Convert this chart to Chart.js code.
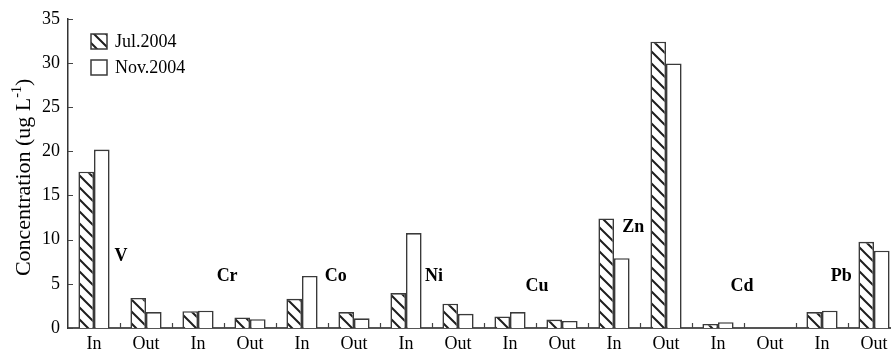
<!DOCTYPE html>
<html>
<head>
<meta charset="utf-8">
<script src="https://cdn.jsdelivr.net/npm/chart.js@4/dist/chart.umd.min.js"></script>
<style>
html,body{margin:0;padding:0;background:#fff;overflow:hidden;}
#wrap{position:relative;width:900px;height:352px;}
</style>
</head>
<body>
<div id="wrap"><canvas id="c"></canvas></div>
<script>
// ---- data ----
const categories = ['In','Out','In','Out','In','Out','In','Out','In','Out','In','Out','In','Out','In','Out'];
const jul2004 = [17.7, 3.4, 1.9, 1.2, 3.3, 1.8, 3.95, 2.75, 1.3, 0.95, 12.4, 32.4, 0.45, 0, 1.8, 9.75];
const nov2004 = [20.2, 1.8, 1.95, 1.0, 5.9, 1.1, 10.75, 1.6, 1.8, 0.8, 7.9, 29.95, 0.65, 0, 1.95, 8.75];
const seriesNames = ['Jul.2004', 'Nov.2004'];
const elements = ['V','Cr','Co','Ni','Cu','Zn','Cd','Pb'];
const elementLabelX = [0.52, 2.56, 4.65, 6.54, 8.52, 10.37, 12.46, 14.37]; // category-index anchor
const elementLabelY = [8.1, 5.8, 5.9, 5.9, 4.7, 11.4, 4.7, 5.8];          // value anchor
const yTicks = [0,5,10,15,20,25,30,35];

const SERIF = "'Liberation Serif','Times New Roman',serif";
const EDGE = '#3a3a3a';

function makeHatch(){
  const t = document.createElement('canvas');
  t.width = 12; t.height = 12;
  const g = t.getContext('2d');
  g.fillStyle = '#fff'; g.fillRect(0,0,12,12);
  g.strokeStyle = '#1e1e1e'; g.lineWidth = 2;
  g.beginPath();
  g.moveTo(-2,-2); g.lineTo(14,14);
  g.moveTo(10,-2); g.lineTo(14,2);
  g.moveTo(-2,10); g.lineTo(2,14);
  g.stroke();
  return document.getElementById('c').getContext('2d').createPattern(t,'repeat');
}
const hatch = makeHatch();

const decor = {
  id:'decor',
  afterDraw(chart){
    const ctx = chart.ctx, a = chart.chartArea;
    const x = chart.scales.x, y = chart.scales.y;
    ctx.save();
    // inward ticks
    ctx.strokeStyle = '#444'; ctx.lineWidth = 1.2;
    ctx.beginPath();
    for(let i=1;i<categories.length;i++){
      const px = Math.round(x.getPixelForValue(i-0.5))+0.5;
      ctx.moveTo(px,a.bottom); ctx.lineTo(px,a.bottom-5);
    }
    yTicks.forEach(v=>{
      const py = Math.round(y.getPixelForValue(v))+0.5;
      ctx.moveTo(a.left,py); ctx.lineTo(a.left+5,py);
    });
    ctx.stroke();
    // element labels
    ctx.fillStyle = '#000';
    ctx.font = "bold 18px " + SERIF;
    ctx.textAlign = 'center'; ctx.textBaseline = 'middle';
    elements.forEach((e,i)=>{
      ctx.fillText(e, x.getPixelForValue(elementLabelX[i]), y.getPixelForValue(elementLabelY[i]));
    });
    // legend
    const fills = [hatch,'#fff'];
    ctx.font = "18px " + SERIF; ctx.textAlign='left';
    fills.forEach((f,i)=>{
      const bx = 91, by = 34 + i*26;
      ctx.fillStyle = f; ctx.fillRect(bx,by,16,15);
      ctx.strokeStyle = EDGE; ctx.lineWidth = 1.5; ctx.strokeRect(bx,by,16,15);
      ctx.fillStyle = '#000'; ctx.fillText(seriesNames[i], bx+24, by+8);
    });
    // y title with superscript
    ctx.translate(22, (a.top+a.bottom)/2 + 4);
    ctx.rotate(-Math.PI/2);
    const main = 'Concentration (ug L', sup = '-1', tail = ')';
    ctx.font = "22px " + SERIF;
    const w1 = ctx.measureText(main).width, w3 = ctx.measureText(tail).width;
    ctx.font = "14px " + SERIF;
    const w2 = ctx.measureText(sup).width;
    let sx = -(w1+w2+w3)/2;
    ctx.textBaseline = 'alphabetic';
    ctx.font = "22px " + SERIF; ctx.fillText(main, sx, 8);
    ctx.font = "14px " + SERIF; ctx.fillText(sup, sx+w1, -1);
    ctx.font = "22px " + SERIF; ctx.fillText(tail, sx+w1+w2, 8);
    ctx.restore();
  }
};

new Chart(document.getElementById('c'), {
  type:'bar',
  data:{
    labels: categories,
    datasets:[
      {label:seriesNames[0], data:jul2004, backgroundColor:hatch, borderColor:EDGE, borderWidth:1.6, borderSkipped:'bottom'},
      {label:seriesNames[1], data:nov2004, backgroundColor:'#fff', borderColor:EDGE, borderWidth:1.6, borderSkipped:'bottom'}
    ]
  },
  options:{
    responsive:true, maintainAspectRatio:false, animation:false,
    layout:{padding:{top:18,right:0,bottom:0,left:0}},
    datasets:{bar:{categoryPercentage:0.6, barPercentage:1.0}},
    plugins:{legend:{display:false}, tooltip:{enabled:false}},
    scales:{
      x:{
        grid:{display:false, drawTicks:false, tickLength:0},
        border:{display:true, color:'#555', width:2},
        ticks:{color:'#000', font:{family:SERIF, size:18}, padding:5, maxRotation:0, autoSkip:false},
        afterFit(s){ s.height = 24; }
      },
      y:{
        min:0, max:35,
        grid:{display:false, drawTicks:false, tickLength:0},
        border:{display:true, color:'#333', width:1.5},
        ticks:{stepSize:5, color:'#000', font:{family:SERIF, size:18}, padding:8},
        afterFit(s){ s.width = 68; }
      }
    }
  },
  plugins:[decor]
});
</script>
</body>
</html>
